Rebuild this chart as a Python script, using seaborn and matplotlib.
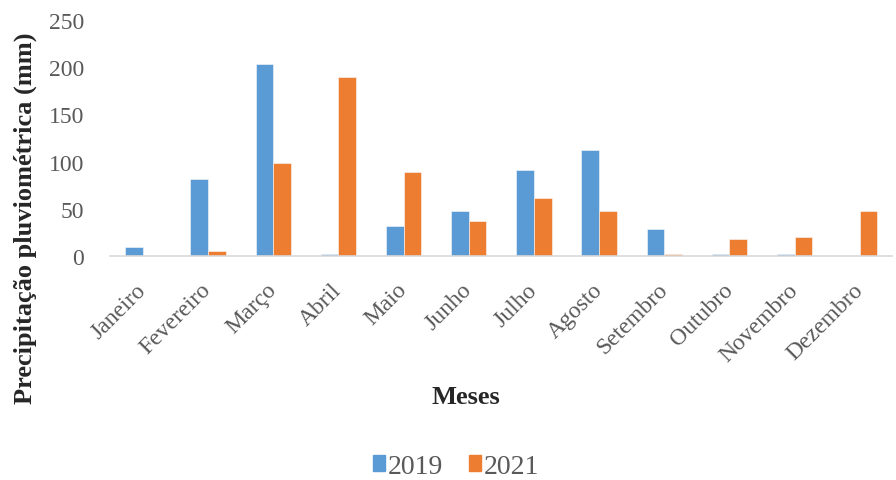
import matplotlib
import matplotlib.pyplot as plt
import pandas as pd
import seaborn as sns

matplotlib.use('agg')

meses = ["Janeiro", "Fevereiro", "Março", "Abril", "Maio", "Junho",
         "Julho", "Agosto", "Setembro", "Outubro", "Novembro", "Dezembro"]
chuva_2019 = [9, 82, 203, 2, 32, 48, 91, 112, 28, 2, 2, 0]
chuva_2021 = [0, 5, 98, 190, 89, 37, 61, 48, 2, 18, 20, 48]

df = pd.DataFrame({
    "Mes": meses * 2,
    "Ano": ["2019"] * 12 + ["2021"] * 12,
    "Valor": chuva_2019 + chuva_2021,
})

sns.set_style("white")
plt.rcParams['font.family'] = ['Liberation Serif', 'DejaVu Serif']

fig = plt.figure(figsize=(8.96, 4.81), dpi=100)
ax = fig.add_axes([0.123, 0.466, 0.873, 0.49])

sns.barplot(data=df, x="Mes", y="Valor", hue="Ano", ax=ax,
            palette={"2019": "#5B9BD5", "2021": "#ED7D31"}, saturation=1,
            width=0.54, edgecolor="#FAFAFA", linewidth=0.4, legend=False)

ax.set_ylim(0, 250)
ax.set_yticks([0, 50, 100, 150, 200, 250])
ax.tick_params(axis="y", labelsize=17, labelcolor="#595959", length=0, pad=19)
ax.tick_params(axis="x", labelsize=17, labelcolor="#595959", length=0, pad=22)
plt.setp(ax.get_xticklabels(), rotation=45, ha="right", va="center", rotation_mode="anchor")
ax.set_xlim(-0.5, 11.5)

for side in ["top", "right", "left"]:
    ax.spines[side].set_visible(False)
ax.spines["bottom"].set_color("#D9D9D9")
ax.spines["bottom"].set_linewidth(1.2)

ax.set_ylabel("Precipitação pluviométrica (mm)", fontsize=19, fontweight="bold",
              va="center", ha="center")
ax.yaxis.set_label_coords((25 - 110) / 783, (256.7 - 218) / 235.7)
ax.set_xlabel("Meses", fontsize=19, fontweight="bold", va="center", ha="center")
ax.xaxis.set_label_coords((466 - 110) / 783, (256.7 - 397) / 235.7)

handles = [plt.Rectangle((0, 0), 1, 1, color="#5B9BD5"),
           plt.Rectangle((0, 0), 1, 1, color="#ED7D31")]
fig.legend(handles, ["2019", "2021"], loc="center", bbox_to_anchor=(0.509, 0.029),
           ncol=2, frameon=False, fontsize=20, handlelength=0.45, handleheight=0.5,
           handletextpad=0.1, columnspacing=0.9, labelcolor="#595959")

plt.savefig("out.png", dpi=100)
